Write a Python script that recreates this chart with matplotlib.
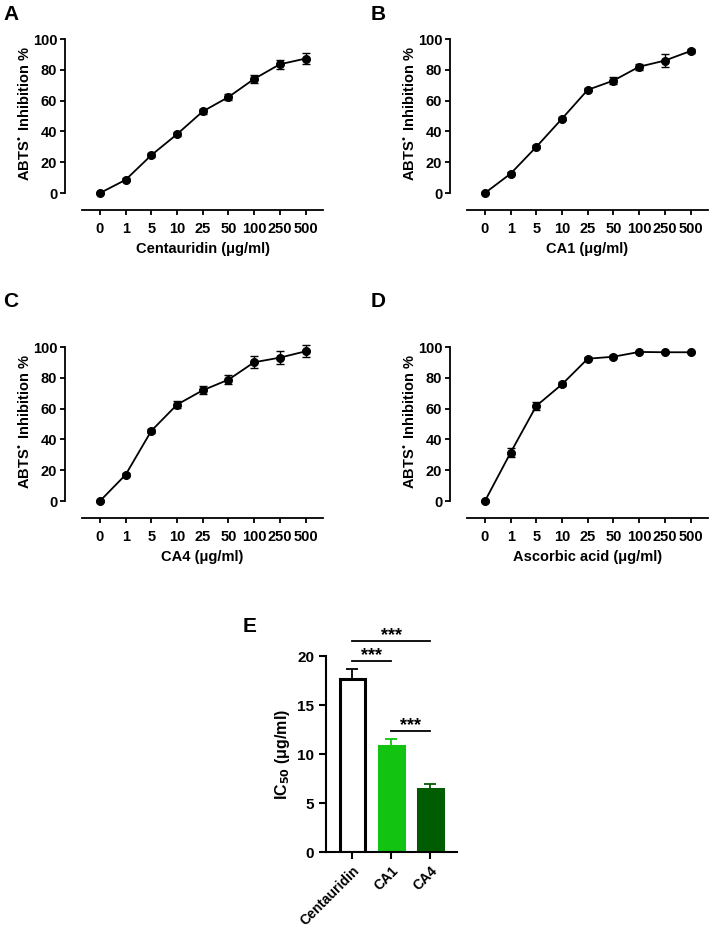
import matplotlib.pyplot as plt

plt.rcParams['font.family'] = ['Liberation Sans', 'DejaVu Sans']
plt.rcParams['font.weight'] = 'bold'
plt.rcParams['mathtext.default'] = 'bf'

# ---------- DATA ----------
conc_labels = ["0", "1", "5", "10", "25", "50", "100", "250", "500"]

centauridin_inh = [0, 8.6, 24.6, 38.2, 53.0, 62.3, 74.1, 83.6, 87.3]
centauridin_err = [0.8, 1.0, 1.2, 1.2, 1.5, 2.0, 2.6, 3.0, 3.4]

ca1_inh = [0, 12.6, 30.0, 48.3, 67.0, 73.0, 82.0, 86.0, 92.2]
ca1_err = [0.6, 1.0, 1.0, 1.0, 1.0, 2.5, 2.0, 4.0, 1.5]

ca4_inh = [0, 17.1, 45.6, 62.6, 71.9, 78.8, 90.1, 93.1, 97.2]
ca4_err = [0.6, 1.0, 1.5, 2.5, 2.5, 3.0, 4.0, 4.0, 4.0]

aa_inh = [0, 31.5, 61.8, 75.8, 92.4, 93.7, 96.8, 96.6, 96.6]
aa_err = [0.5, 3.0, 2.5, 1.2, 1.0, 1.0, 0.8, 0.8, 0.8]

ic50_names = ["Centauridin", "CA1", "CA4"]
ic50_vals = [17.7, 10.8, 6.45]
ic50_err = [1.0, 0.75, 0.45]

W, H = 709, 930


def px_axes(fig, left, top, right, bottom):
    return fig.add_axes([left / W, 1 - bottom / H, (right - left) / W, (bottom - top) / H])


def line_panel(fig, rect, values, errors, xlabel, letter, letter_xy):
    ax = px_axes(fig, *rect)
    x = list(range(len(conc_labels)))
    ax.errorbar(x, values, yerr=errors, color="black", lw=1.3, marker="o",
                ms=5.5, capsize=2.8, elinewidth=1.0, capthick=1.0, clip_on=False)
    ax.set_xlim(-1.36, 8.68)
    ax.set_ylim(-11, 103)
    ax.spines[["top", "right"]].set_visible(False)
    ax.spines["left"].set_bounds(0, 100)
    ax.spines["bottom"].set_bounds(-0.7, 8.68)
    for s in ("left", "bottom"):
        ax.spines[s].set_linewidth(1.3)
    ax.set_yticks([0, 20, 40, 60, 80, 100])
    ax.set_xticks(x)
    ax.set_xticklabels(conc_labels)
    ax.tick_params(width=1.3, length=3.5, labelsize=10.5, pad=2)
    ax.tick_params(axis="x", pad=5)
    ax.set_ylabel("ABTS$^{\u2022}$ Inhibition %", fontsize=10.5, fontweight="bold")
    ax.yaxis.set_label_coords(-0.125, 0.55)
    ax.set_xlabel(xlabel + " (\u03bcg/ml)", fontsize=10.5, fontweight="bold")
    ax.xaxis.set_label_coords(0.533, -0.185)
    fig.text(letter_xy[0] / W, 1 - letter_xy[1] / H, letter, fontsize=15,
             fontweight="bold", va="center", ha="left")
    return ax


fig = plt.figure(figsize=(W / 100, H / 100), dpi=100)

line_panel(fig, (65, 34.4, 323, 210), centauridin_inh, centauridin_err,
           "Centauridin", "A", (3, 14))
line_panel(fig, (450, 34.4, 708, 210), ca1_inh, ca1_err, "CA1", "B", (371, 14))
line_panel(fig, (65, 342.4, 323, 518), ca4_inh, ca4_err, "CA4", "C", (3, 301))
line_panel(fig, (450, 342.4, 708, 518), aa_inh, aa_err, "Ascorbic acid", "D", (371, 301))

# ---------- PANEL E ----------
ax = px_axes(fig, 326, 656, 457, 852)
colors = ["white", "#12C312", "#005C00"]
edges = ["black", "#12C312", "#005C00"]
xb = list(range(len(ic50_names)))
ax.bar(xb, ic50_vals, width=0.64, color=colors, edgecolor=edges, linewidth=2.2, zorder=2)
for i in xb:
    ax.errorbar(i, ic50_vals[i], yerr=[[0], [ic50_err[i]]], color=edges[i],
                capsize=4, elinewidth=1.3, capthick=1.3, zorder=1)
ax.set_xlim(-0.67, 2.69)
ax.set_ylim(0, 20)
ax.spines[["top", "right"]].set_visible(False)
for s in ("left", "bottom"):
    ax.spines[s].set_linewidth(1.5)
ax.set_yticks([0, 5, 10, 15, 20])
ax.set_xticks(xb)
ax.set_xticklabels(ic50_names, rotation=45, ha="right", rotation_mode="anchor")
ax.tick_params(width=1.5, length=5, labelsize=10)
ax.tick_params(axis="y", labelsize=11)
ax.set_ylabel("IC$_{50}$ (\u03bcg/ml)", fontsize=11.5, fontweight="bold")

sig = [(0, 2, 21.5), (0, 1, 19.5), (1, 2, 12.3)]
for a, b, h in sig:
    ax.plot([a, b], [h, h], color="black", lw=1.3, clip_on=False)
    ax.text((a + b) / 2, h - 0.3, "***", ha="center", va="bottom", fontsize=13,
            fontweight="bold")

fig.text(243 / W, 1 - 627 / H, "E", fontsize=15, fontweight="bold", va="center", ha="left")

fig.savefig("out.png", dpi=100)
